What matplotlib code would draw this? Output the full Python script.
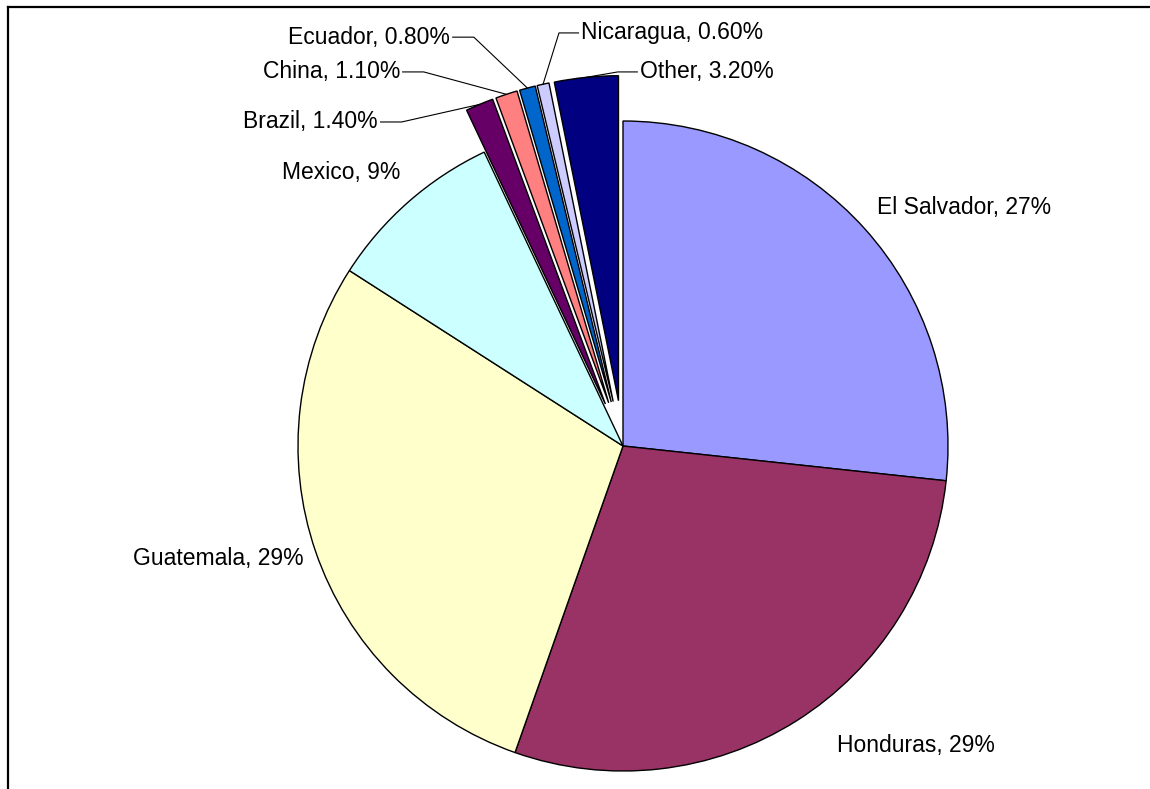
import matplotlib
matplotlib.use("Agg")
import matplotlib.pyplot as plt
from matplotlib.lines import Line2D
import numpy as np

countries = ['El Salvador', 'Honduras', 'Guatemala', 'Mexico', 'Brazil',
             'China', 'Ecuador', 'Nicaragua', 'Other']
shares = [27, 29, 29, 9, 1.4, 1.1, 0.8, 0.6, 3.2]
share_labels = ['27%', '29%', '29%', '9%', '1.40%', '1.10%', '0.80%', '0.60%', '3.20%']
colors = ['#9999FF', '#993366', '#FFFFCC', '#CCFFFF', '#660066',
          '#FF8080', '#0066CC', '#CCCCFF', '#000080']
explode = [0, 0, 0, 0, 0.14, 0.14, 0.14, 0.14, 0.14]

# label placement (pie radius = 1), alignment, leader line or not
label_pos = [(0.78, 0.735), (0.658, -0.923), (-0.982, -0.345), (-0.686, 0.84),
             (-0.754, 0.997), (-0.686, 1.151), (-0.532, 1.258),
             (-0.129, 1.271), (0.052, 1.151)]
label_ha = ['left', 'left', 'right', 'right', 'right', 'right', 'right', 'left', 'left']
leader = [False, False, False, False, True, True, True, True, True]

plt.rcParams['font.family'] = ['Liberation Sans', 'DejaVu Sans']

fig = plt.figure(figsize=(11.5, 7.89), dpi=100)
ax = fig.add_axes([0, 0, 1, 1])

wedges, _ = ax.pie(shares, colors=colors, explode=explode, startangle=90,
                   counterclock=False, radius=1,
                   wedgeprops=dict(edgecolor='black', linewidth=1.0))

cx, cy, R = 623, 446, 325
ax.set_xlim(-cx / R, (1150 - cx) / R)
ax.set_ylim(-(789 - cy) / R, cy / R)
ax.set_aspect('auto')
ax.axis('off')

for w, name, lab, (tx, ty), ha, ld in zip(wedges, countries, share_labels,
                                          label_pos, label_ha, leader):
    ax.text(tx, ty, f'{name}, {lab}', ha=ha, va='center', fontsize=16.5)
    if ld:
        mid = np.deg2rad((w.theta1 + w.theta2) / 2)
        px = w.center[0] + w.r * np.cos(mid)
        py = w.center[1] + w.r * np.sin(mid)
        # width of text in data units
        t = ax.texts[-1]
        fig.canvas.draw()
        bb = t.get_window_extent().transformed(ax.transData.inverted())
        if ha == 'right':
            x0 = bb.x1 + 0.008
            x1 = x0 + 0.065
        else:
            x0 = bb.x0 - 0.008
            x1 = x0 - 0.06
        ax.plot([x0, x1, px], [ty, ty, py], color='black', lw=0.8)

# frame
fig.add_artist(Line2D([8 / 1150, 8 / 1150], [0, 1 - 7 / 789], color='black', lw=1.6))
fig.add_artist(Line2D([8 / 1150, 1], [1 - 7 / 789, 1 - 7 / 789], color='black', lw=1.6))

fig.savefig('out.png', dpi=100)
